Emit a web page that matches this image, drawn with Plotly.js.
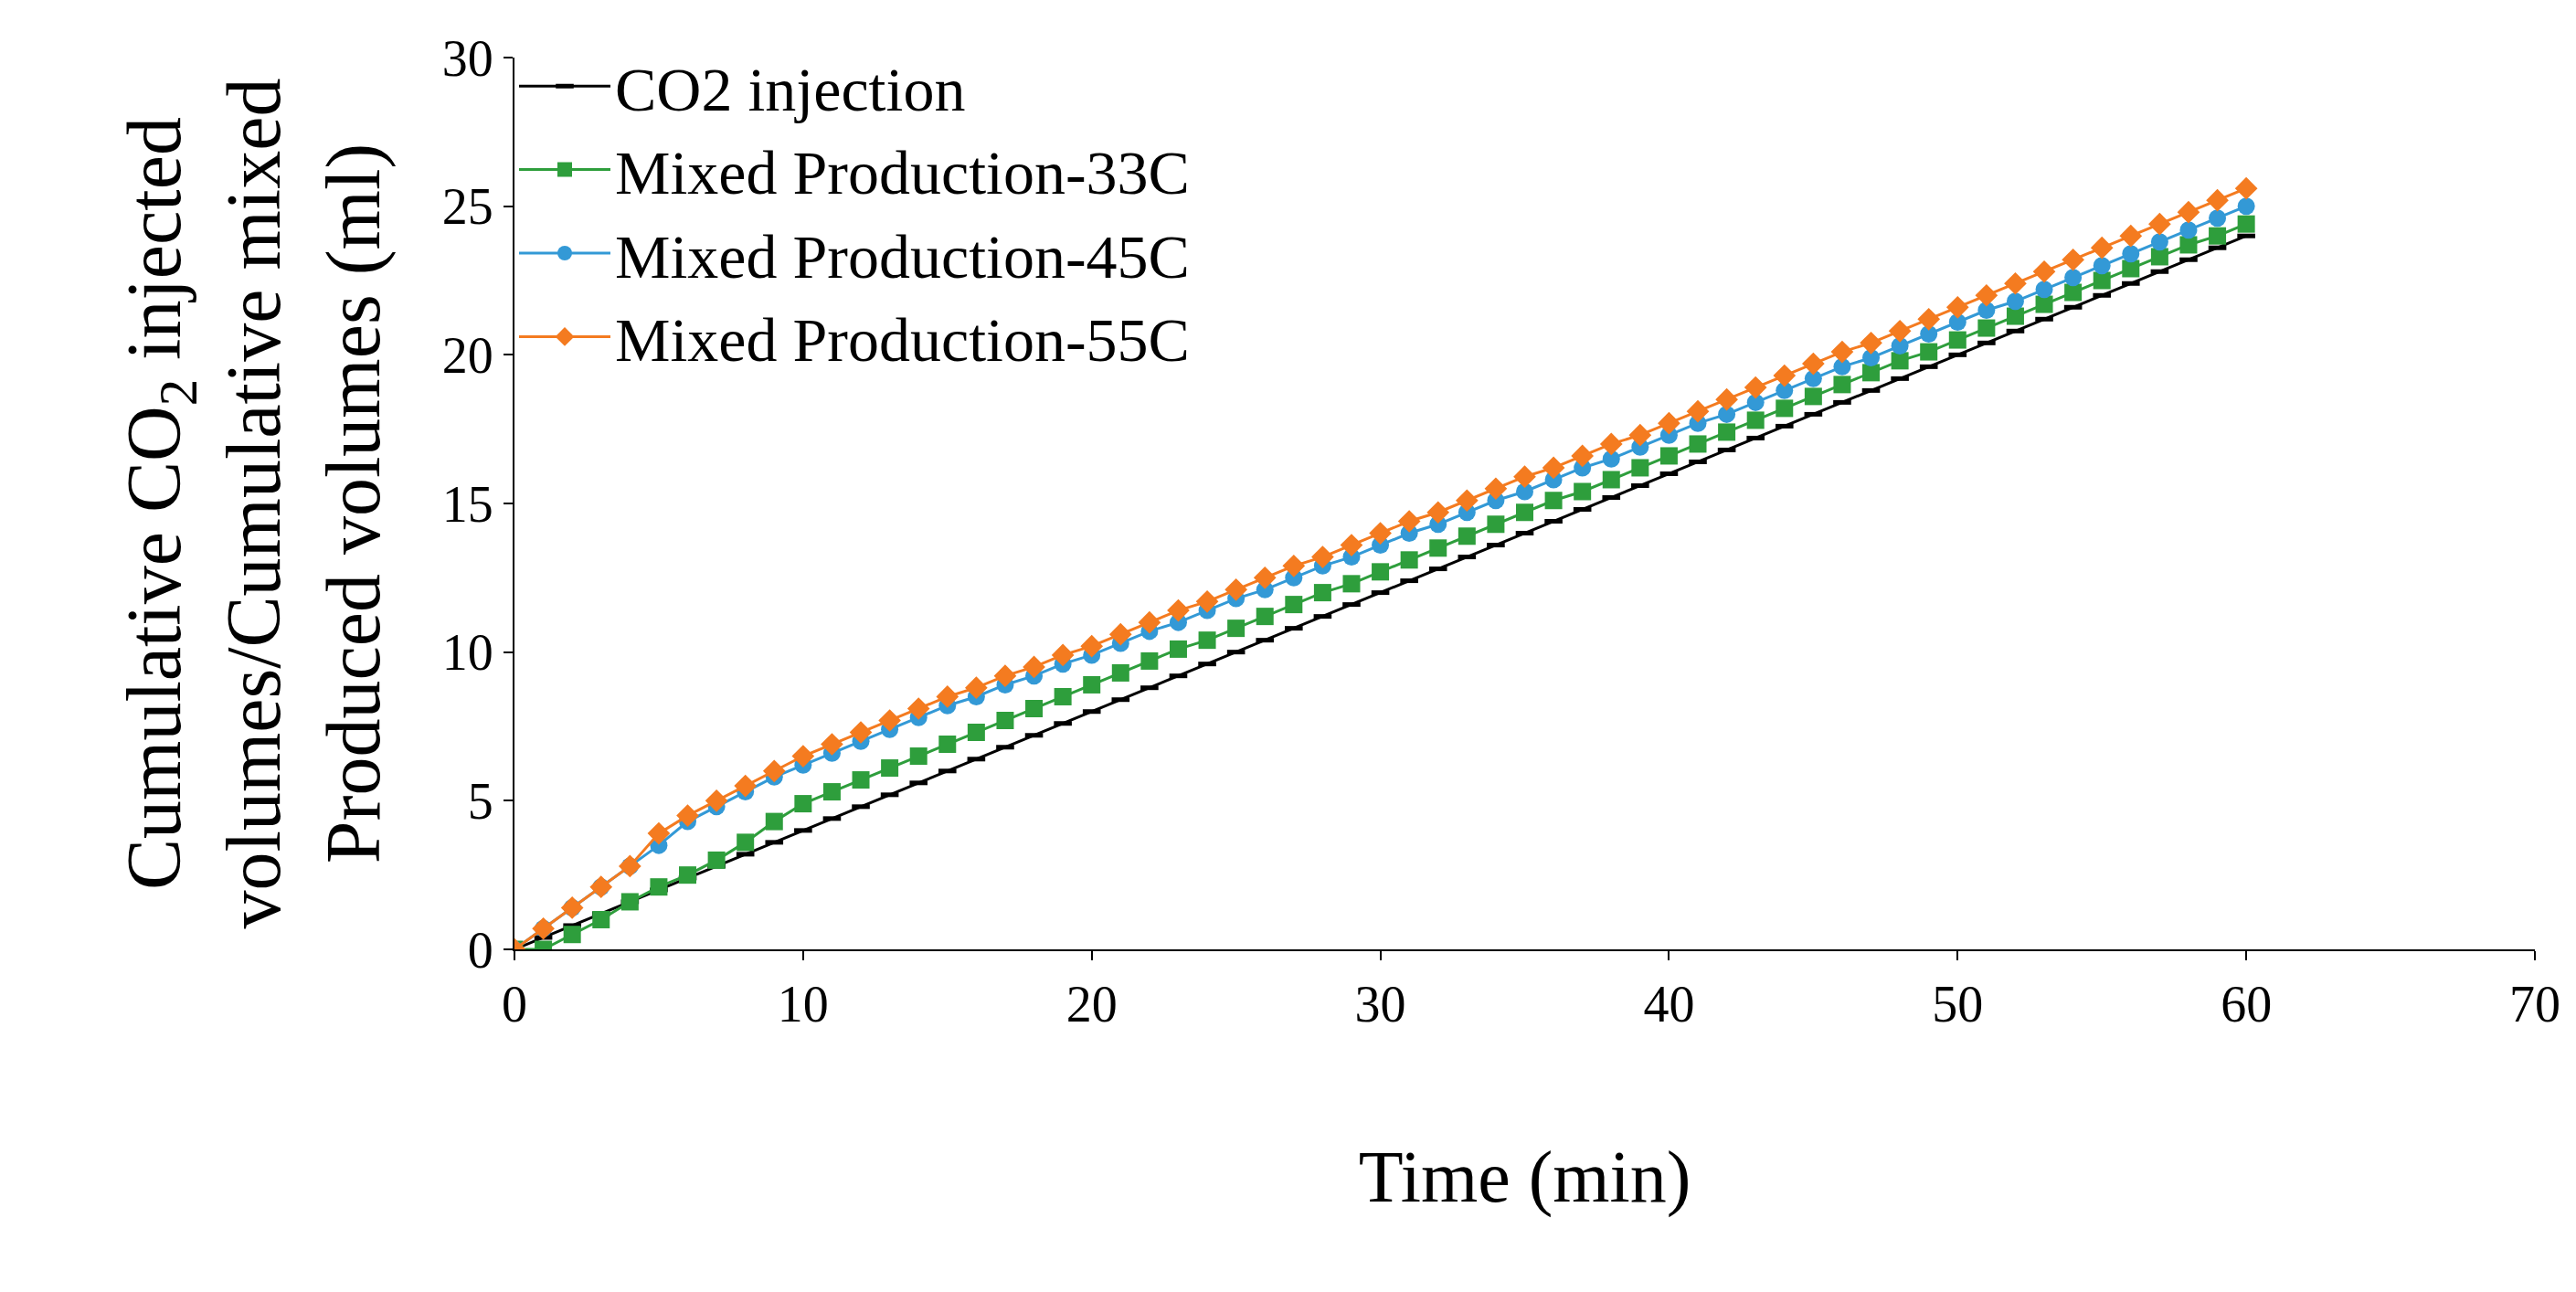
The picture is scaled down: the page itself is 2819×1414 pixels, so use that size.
<!DOCTYPE html>
<html>
<head>
<meta charset="utf-8">
<script src="https://cdn.plot.ly/plotly-3.0.1.min.js"></script>
<style>
  html, body { margin: 0; padding: 0; background: #fff; }
  #chart { width: 2819px; height: 1414px; }
</style>
</head>
<body>
<div id="chart"></div>
<script>
// time (min), one reading per minute
var timeMin = [0,1,2,3,4,5,6,7,8,9,10,11,12,13,14,15,16,17,18,19,20,21,22,23,24,25,26,27,28,29,30,
  31,32,33,34,35,36,37,38,39,40,41,42,43,44,45,46,47,48,49,50,51,52,53,54,55,56,57,58,59,60];

var co2Injection = [0,0.4,0.8,1.2,1.6,2.0,2.4,2.8,3.2,3.6,4.0,4.4,4.8,5.2,5.6,6.0,6.4,6.8,7.2,7.6,8.0,
  8.4,8.8,9.2,9.6,10.0,10.4,10.8,11.2,11.6,12.0,12.4,12.8,13.2,13.6,14.0,14.4,14.8,15.2,15.6,16.0,
  16.4,16.8,17.2,17.6,18.0,18.4,18.8,19.2,19.6,20.0,20.4,20.8,21.2,21.6,22.0,22.4,22.8,23.2,23.6,24.0];

var mixed33 = [0,0,0.5,1.0,1.6,2.1,2.5,3.0,3.6,4.3,4.9,5.3,5.7,6.1,6.5,6.9,7.3,7.7,8.1,8.5,8.9,
  9.3,9.7,10.1,10.4,10.8,11.2,11.6,12.0,12.3,12.7,13.1,13.5,13.9,14.3,14.7,15.1,15.4,15.8,16.2,16.6,
  17.0,17.4,17.8,18.2,18.6,19.0,19.4,19.8,20.1,20.5,20.9,21.3,21.7,22.1,22.5,22.9,23.3,23.7,24.0,24.4];

var mixed45 = [0,0.7,1.4,2.1,2.8,3.5,4.3,4.8,5.3,5.8,6.2,6.6,7.0,7.4,7.8,8.2,8.5,8.9,9.2,9.6,9.9,
  10.3,10.7,11.0,11.4,11.8,12.1,12.5,12.9,13.2,13.6,14.0,14.3,14.7,15.1,15.4,15.8,16.2,16.5,16.9,17.3,
  17.7,18.0,18.4,18.8,19.2,19.6,19.9,20.3,20.7,21.1,21.5,21.8,22.2,22.6,23.0,23.4,23.8,24.2,24.6,25.0];

var mixed55 = [0,0.7,1.4,2.1,2.8,3.9,4.5,5.0,5.5,6.0,6.5,6.9,7.3,7.7,8.1,8.5,8.8,9.2,9.5,9.9,10.2,
  10.6,11.0,11.4,11.7,12.1,12.5,12.9,13.2,13.6,14.0,14.4,14.7,15.1,15.5,15.9,16.2,16.6,17.0,17.3,17.7,
  18.1,18.5,18.9,19.3,19.7,20.1,20.4,20.8,21.2,21.6,22.0,22.4,22.8,23.2,23.6,24.0,24.4,24.8,25.2,25.6];

var seriesNames = ["CO2 injection", "Mixed Production-33C", "Mixed Production-45C", "Mixed Production-55C"];
var seriesColors = ["#000000", "#2e9e3c", "#3399d6", "#f47b20"];
var seriesSymbols = ["line-ew", "square", "circle", "diamond"];
var seriesData = [co2Injection, mixed33, mixed45, mixed55];

var traces = seriesData.map(function(vals, i) {
  return {
    type: "scatter",
    mode: "lines+markers",
    name: seriesNames[i],
    x: timeMin,
    y: vals,
    line: { color: seriesColors[i], width: 3 },
    marker: {
      symbol: seriesSymbols[i],
      color: seriesColors[i],
      size: i === 0 ? 14 : 19,
      line: { color: seriesColors[i], width: i === 0 ? 5 : 0 }
    }
  };
});

var font = "Liberation Serif, DejaVu Serif, serif";

var layout = {
  width: 2819,
  height: 1414,
  paper_bgcolor: "#fff",
  plot_bgcolor: "#fff",
  margin: { t: 63, b: 375, l: 563, r: 45 },
  font: { family: font, color: "#000", size: 56 },
  showlegend: true,
  legend: {
    orientation: "h",
    x: 0.0, y: 1.02, xanchor: "left", yanchor: "top",
    entrywidth: 1310, entrywidthmode: "pixels",
    font: { family: font, size: 68, color: "#000" },
    bgcolor: "rgba(255,255,255,0)",
    tracegroupgap: 0,
    itemwidth: 100
  },
  xaxis: {
    range: [0, 70], dtick: 10, tick0: 0,
    showgrid: false, zeroline: false,
    showline: true, linecolor: "#000", linewidth: 2,
    ticks: "outside", ticklen: 10, tickwidth: 2, tickcolor: "#000",
    tickfont: { family: font, size: 56 },
    title: { text: "Time (min)", font: { family: font, size: 80 }, standoff: 130 }
  },
  yaxis: {
    range: [0, 30], dtick: 5, tick0: 0,
    showgrid: false, zeroline: false,
    showline: true, linecolor: "#000", linewidth: 2,
    ticks: "outside", ticklen: 10, tickwidth: 2, tickcolor: "#000",
    tickfont: { family: font, size: 56 },
    title: {
      text: "Cumulative CO<sub>2</sub> injected<br>volumes/Cumulative mixed<br>Produced volumes (ml)",
      font: { family: font, size: 84 }, standoff: 40
    }
  }
};

Plotly.newPlot("chart", traces, layout, { displayModeBar: false, staticPlot: true });
</script>
</body>
</html>
